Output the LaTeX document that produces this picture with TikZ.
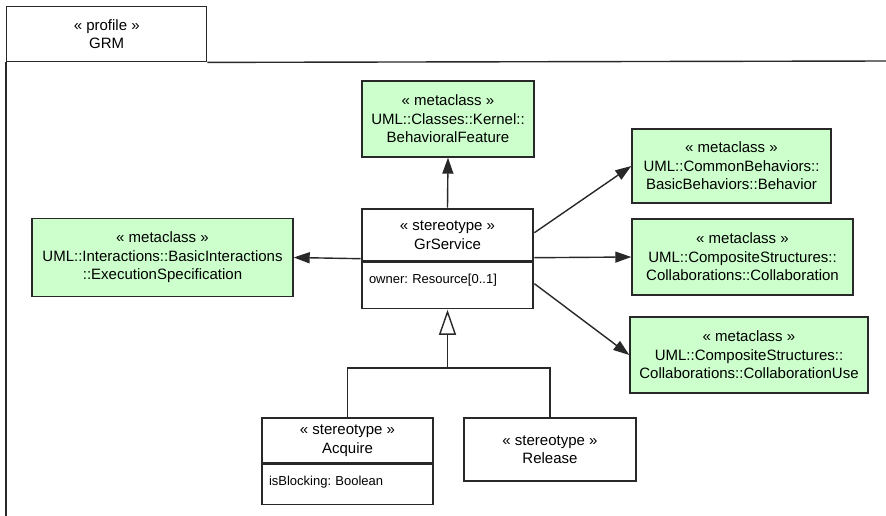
\documentclass[tikz,border=0pt]{standalone}
\usepackage{fontspec}
\setmainfont{Liberation Sans}
\usepackage{xcolor}
\usetikzlibrary{arrows.meta,positioning,fit}
\definecolor{metagreen}{RGB}{204,255,204}
\definecolor{umlline}{RGB}{40,40,40}

\begin{document}
\frenchspacing
\begin{tikzpicture}[x=1pt,y=1pt,
    font=\fontsize{15}{18.5}\selectfont,
    line width=1.4pt,draw=umlline,
    meta/.style={draw,fill=metagreen,inner sep=0pt,align=center},
    stereo/.style={draw,fill=white,inner sep=0pt,align=center,minimum width=171pt},
    attr/.style={draw,fill=white,inner ysep=0pt,inner xsep=7pt,text width=157pt,align=left,
      font=\fontsize{13}{16}\selectfont},
    assoc/.style={draw,-{Triangle[length=16pt,width=11pt,fill=umlline]}},
    gen/.style={draw,-{Triangle[open,length=25pt,width=17pt,fill=white]}}]
    \useasboundingbox (0,0) rectangle (886,-516);
    % profile frame
    \node[draw,anchor=north west,minimum width=200pt,minimum height=55pt,inner sep=0pt,align=center]
      (profile) at (6,-6) {« profile »\\GRM};
    \draw (profile.south west) -- ++(0,-460);
    \draw (profile.south east) -- (890,-61);
    % metaclasses
    \node[meta,minimum width=172pt,minimum height=76pt] (behfeat) at (448,-119)
      {« metaclass »\\UML::Classes::Kernel::\\BehavioralFeature};
    \node[meta,minimum width=261pt,minimum height=78pt] (execspec) at (162.5,-257.5)
      {« metaclass »\\UML::Interactions::BasicInteractions\\::ExecutionSpecification};
    \node[meta,minimum width=199pt,minimum height=74pt] (behavior) at (731.5,-166)
      {« metaclass »\\UML::CommonBehaviors::\\BasicBehaviors::Behavior};
    \node[meta,minimum width=221pt,minimum height=76pt] (collab) at (742.5,-257)
      {« metaclass »\\UML::CompositeStructures::\\Collaborations::Collaboration};
    \node[meta,minimum width=238pt,minimum height=76pt] (collabuse) at (749,-355)
      {« metaclass »\\UML::CompositeStructures::\\Collaborations::CollaborationUse};
    % stereotypes
    \node[stereo,minimum height=52pt] (grsvc) at (447.5,-235) {« stereotype »\\GrService};
    \node[attr,below=0pt of grsvc,text height=21pt,text depth=25pt] (grsvcattr) {owner: Resource[0..1]};
    \node[fit=(grsvc)(grsvcattr),inner sep=0pt] (grsvcbox) {};
    \node[stereo,minimum height=45pt] (acquire) at (347.5,-440.5) {« stereotype »\\Acquire};
    \node[attr,below=0pt of acquire,text height=21pt,text depth=19pt] (acquireattr) {isBlocking: Boolean};
    \node[stereo,minimum height=63pt,minimum width=172pt] (release) at (550,-449.5) {« stereotype »\\Release};
    % extensions
    \draw[assoc] (grsvcbox.north) -- (behfeat.south);
    \draw[assoc] (grsvcbox.west) -- (execspec.east);
    \draw[assoc] ([yshift=26pt]grsvcbox.east) -- (behavior.west);
    \draw[assoc] ([yshift=1pt]grsvcbox.east) -- (collab.west);
    \draw[assoc] ([yshift=-25pt]grsvcbox.east) -- (collabuse.west);
    % generalization
    \coordinate (genjoin) at (447.5,-368);
    \draw (acquire.north) |- (genjoin) -| (release.north);
    \draw[gen] (genjoin) -- (grsvcbox.south);
  \end{tikzpicture}
\end{document}
